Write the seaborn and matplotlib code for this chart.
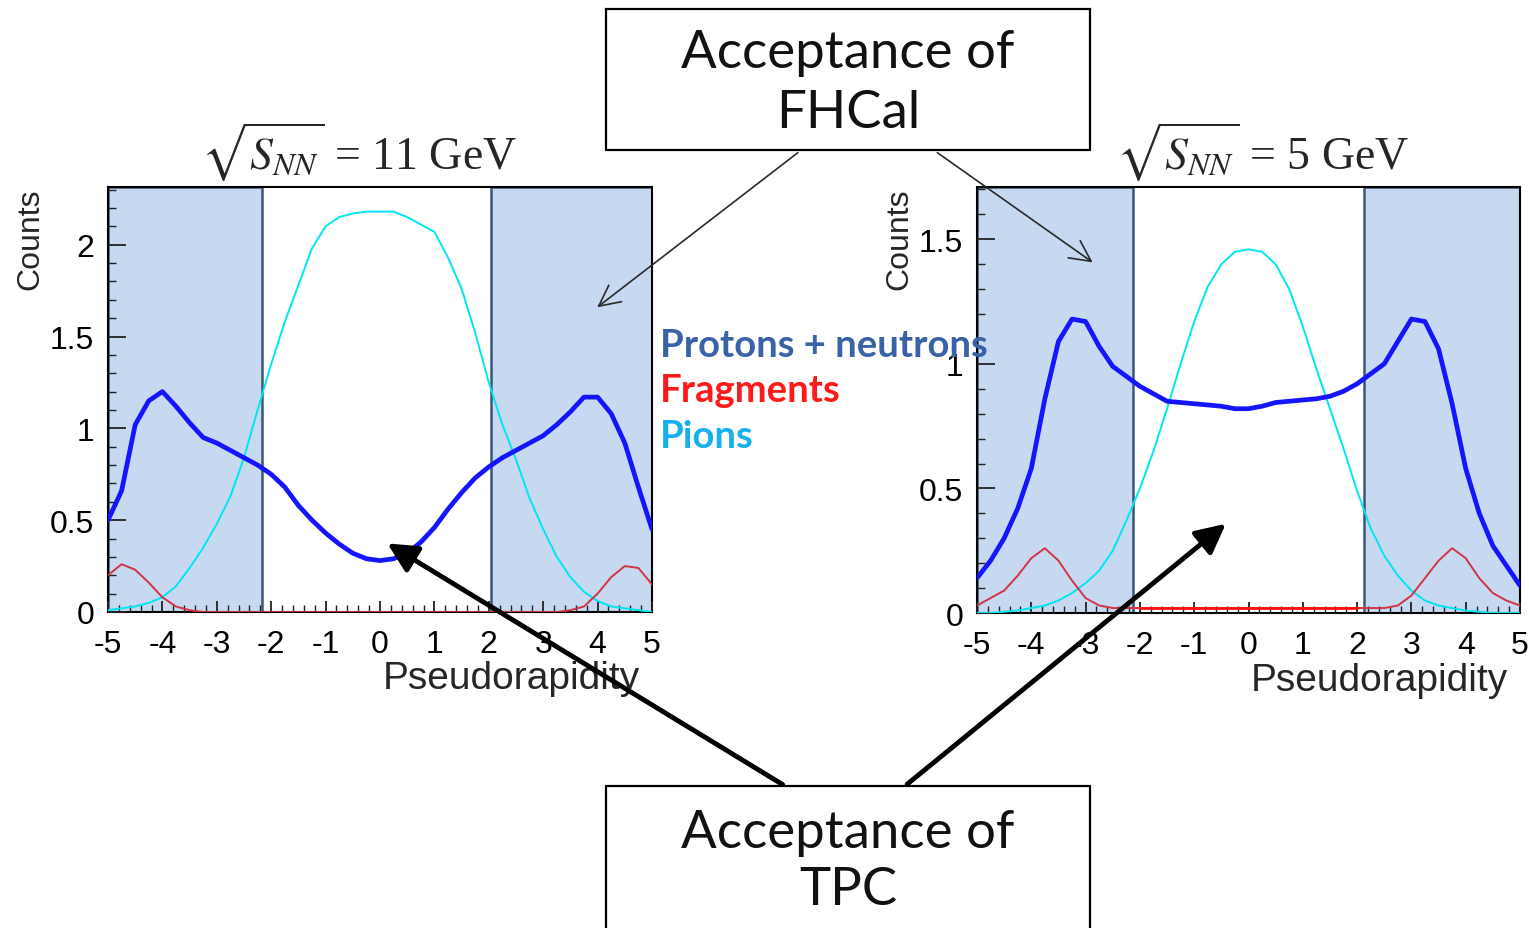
import numpy as np
import pandas as pd
import matplotlib
matplotlib.use("Agg")
import matplotlib.pyplot as plt
from matplotlib.ticker import MultipleLocator, FuncFormatter
from matplotlib.patches import Rectangle, FancyArrowPatch
import seaborn as sns

# ---------------- data ----------------
eta = [-5.0, -4.75, -4.5, -4.25, -4.0, -3.75, -3.5, -3.25, -3.0, -2.75,
       -2.5, -2.25, -2.0, -1.75, -1.5, -1.25, -1.0, -0.75, -0.5, -0.25,
       0.0, 0.25, 0.5, 0.75, 1.0, 1.25, 1.5, 1.75, 2.0, 2.25,
       2.5, 2.75, 3.0, 3.25, 3.5, 3.75, 4.0, 4.25, 4.5, 4.75, 5.0]

# sqrt(s_NN) = 11 GeV
pn_11 = [0.50, 0.66, 1.02, 1.15, 1.20, 1.12, 1.03, 0.95, 0.92, 0.88,
         0.84, 0.80, 0.75, 0.68, 0.58, 0.50, 0.43, 0.37, 0.32, 0.29,
         0.28, 0.29, 0.32, 0.38, 0.46, 0.56, 0.65, 0.73, 0.79, 0.84,
         0.88, 0.92, 0.96, 1.02, 1.09, 1.17, 1.17, 1.08, 0.92, 0.68, 0.45]
frag_11 = [0.20, 0.26, 0.23, 0.16, 0.08, 0.03, 0.01, 0.0, 0.0, 0.0,
           0.0, 0.0, 0.0, 0.0, 0.0, 0.0, 0.0, 0.0, 0.0, 0.0,
           0.0, 0.0, 0.0, 0.0, 0.0, 0.0, 0.0, 0.0, 0.0, 0.0,
           0.0, 0.0, 0.0, 0.0, 0.01, 0.03, 0.10, 0.19, 0.25, 0.24, 0.15]
pion_11 = [0.01, 0.02, 0.03, 0.05, 0.08, 0.14, 0.24, 0.35, 0.48, 0.63,
           0.84, 1.10, 1.35, 1.58, 1.78, 1.98, 2.10, 2.15, 2.17, 2.18,
           2.18, 2.18, 2.15, 2.11, 2.07, 1.93, 1.76, 1.52, 1.25, 1.02,
           0.83, 0.62, 0.45, 0.30, 0.19, 0.11, 0.06, 0.03, 0.02, 0.01, 0.0]

# sqrt(s_NN) = 5 GeV
pn_5 = [0.14, 0.21, 0.30, 0.42, 0.58, 0.86, 1.09, 1.18, 1.17, 1.07,
        0.99, 0.95, 0.91, 0.88, 0.85, 0.845, 0.84, 0.835, 0.83, 0.82,
        0.82, 0.83, 0.845, 0.85, 0.855, 0.86, 0.87, 0.89, 0.92, 0.96,
        1.00, 1.09, 1.18, 1.17, 1.06, 0.84, 0.58, 0.40, 0.27, 0.19, 0.11]
frag_5 = [0.03, 0.06, 0.09, 0.15, 0.22, 0.26, 0.21, 0.13, 0.06, 0.03,
          0.02, 0.02, 0.02, 0.02, 0.02, 0.02, 0.02, 0.02, 0.02, 0.02,
          0.02, 0.02, 0.02, 0.02, 0.02, 0.02, 0.02, 0.02, 0.02, 0.02,
          0.02, 0.03, 0.07, 0.14, 0.21, 0.26, 0.22, 0.14, 0.08, 0.05, 0.03]
pion_5 = [0.0, 0.0, 0.005, 0.01, 0.02, 0.03, 0.05, 0.08, 0.12, 0.17,
          0.25, 0.37, 0.50, 0.65, 0.82, 1.00, 1.17, 1.31, 1.40, 1.45,
          1.46, 1.45, 1.40, 1.30, 1.15, 0.98, 0.82, 0.66, 0.49, 0.34,
          0.23, 0.15, 0.09, 0.05, 0.03, 0.02, 0.01, 0.005, 0.0, 0.0, 0.0]

# FHCal acceptance edges (pseudorapidity)
fhcal_11 = [-2.17, 2.04]
fhcal_5 = [-2.13, 2.13]

legend_labels = ["Protons + neutrons", "Fragments", "Pions"]
energies = ["11", "5"]

# ---------------- style ----------------
sns.set_style("ticks")
plt.rcParams['font.family'] = ['Liberation Sans', 'DejaVu Sans']
plt.rcParams['mathtext.fontset'] = 'stix'
plt.rcParams['axes.unicode_minus'] = False

W, H = 1529, 929
fig = plt.figure(figsize=(W / 100, H / 100), dpi=100)


def fx(x):
    return x / W


def fy(y):
    return 1 - y / H


panels = [
    dict(box=(108, 188, 652, 613), ymax=2.314, fh=fhcal_11, pn=pn_11,
         fr=frag_11, pi=pion_11, e=energies[0], tx=0.461, frmid='#b02838'),
    dict(box=(977, 188, 1520, 614), ymax=1.71, fh=fhcal_5, pn=pn_5,
         fr=frag_5, pi=pion_5, e=energies[1], tx=0.525, frmid='#ff1010'),
]

fmt = FuncFormatter(lambda v, p: f"{v:g}")

for p in panels:
    x0, y0, x1, y1 = p['box']
    ax = fig.add_axes([fx(x0), fy(y1), (x1 - x0) / W, (y1 - y0) / H])
    ax.set_axisbelow(False)
    df = pd.DataFrame({'eta': eta, 'pn': p['pn'], 'frag': p['fr'], 'pion': p['pi']})

    # FHCal acceptance shading
    ax.axvspan(-5, p['fh'][0], facecolor='#c6d9f0', edgecolor='#3a5678',
               lw=1.8, zorder=1)
    ax.axvspan(p['fh'][1], 5, facecolor='#c6d9f0', edgecolor='#3a5678',
               lw=1.8, zorder=1)

    sns.lineplot(data=df, x='eta', y='pion', ax=ax, color='#00e6f0',
                 lw=1.4, zorder=3)
    sns.lineplot(data=df, x='eta', y='frag', ax=ax, color='#d23446',
                 lw=1.4, zorder=3)
    mid = df[(df['eta'] >= p['fh'][0]) & (df['eta'] <= p['fh'][1])]
    sns.lineplot(data=mid, x='eta', y='frag', ax=ax, color=p['frmid'],
                 lw=2.0, zorder=3)
    sns.lineplot(data=df, x='eta', y='pn', ax=ax, color='#1414ff',
                 lw=3.4, zorder=4)

    ax.set_xlim(-5, 5)
    ax.set_ylim(0, p['ymax'])
    ax.xaxis.set_major_locator(MultipleLocator(1))
    ax.xaxis.set_minor_locator(MultipleLocator(0.2))
    ax.yaxis.set_major_locator(MultipleLocator(0.5))
    ax.yaxis.set_minor_locator(MultipleLocator(0.1))
    ax.xaxis.set_major_formatter(fmt)
    ax.yaxis.set_major_formatter(fmt)
    ax.tick_params(axis='both', which='both', direction='in', colors='#222222',
                   labelcolor='black', labelsize=23)
    ax.tick_params(axis='y', which='major', length=13, width=1.3, pad=10)
    ax.tick_params(axis='y', which='minor', length=6, width=1.0)
    ax.tick_params(axis='x', which='major', length=8, width=1.3, pad=12)
    ax.tick_params(axis='x', which='minor', length=5, width=1.0)
    for s in ax.spines.values():
        s.set_linewidth(1.5)
        s.set_color('black')

    ax.set_xlabel('Pseudorapidity', fontsize=28, loc='right')
    ax.xaxis.set_label_coords(0.978, -0.114)
    ax.set_ylabel('Counts', fontsize=23, loc='top')
    ax.yaxis.set_label_coords(-0.115, 1.0)

    ax.text(p['tx'], 1.042, r'$\sqrt{S_{NN}}$' + f' = {p["e"]} GeV',
            transform=ax.transAxes, ha='center', va='baseline', fontsize=33,
            family=['Liberation Serif', 'DejaVu Serif'])

# ---------------- acceptance boxes ----------------
box_font = ['Lato', 'DejaVu Sans']
fig.patches.append(Rectangle((fx(606), fy(151)), (1090 - 606) / W, (151 - 10) / H,
                             transform=fig.transFigure, facecolor='white',
                             edgecolor='black', lw=1.6, zorder=2))
fig.patches.append(Rectangle((fx(606), fy(940)), (1090 - 606) / W, (940 - 787) / H,
                             transform=fig.transFigure, facecolor='white',
                             edgecolor='black', lw=1.6, zorder=2))
for txt, yb in [("Acceptance of", 68), ("FHCal", 128),
                ("Acceptance of", 848), ("TPC", 905)]:
    fig.text(fx(848), fy(yb), txt, ha='center', va='baseline', fontsize=38,
             family=box_font, color='#111111', zorder=6)

# ---------------- legend texts ----------------
for txt, col, yb in zip(legend_labels, ['#3a62a6', '#ff1a1a', '#16b0ee'],
                        [357, 402, 448]):
    fig.text(fx(660), fy(yb), txt, ha='left', va='baseline', fontsize=27.5,
             fontweight='bold', family=box_font, color=col, zorder=6)

# ---------------- arrows ----------------
thin = dict(arrowstyle='->,head_length=0.6,head_width=0.3', mutation_scale=25,
            lw=1.2, color='#2a2a2a', transform=fig.transFigure, zorder=5)
thick = dict(arrowstyle='-|>,head_length=0.6,head_width=0.3', mutation_scale=30,
             lw=3.5, color='black', transform=fig.transFigure, zorder=5)
for (xa, ya, xb, yb), kw in [((800, 152, 595, 310), thin),
                             ((935, 152, 1095, 265), thin),
                             ((785, 787, 385, 543), thick),
                             ((905, 787, 1228, 523), thick)]:
    fig.add_artist(FancyArrowPatch((fx(xa), fy(ya)), (fx(xb), fy(yb)), **kw))

fig.savefig('out.png', dpi=100)
